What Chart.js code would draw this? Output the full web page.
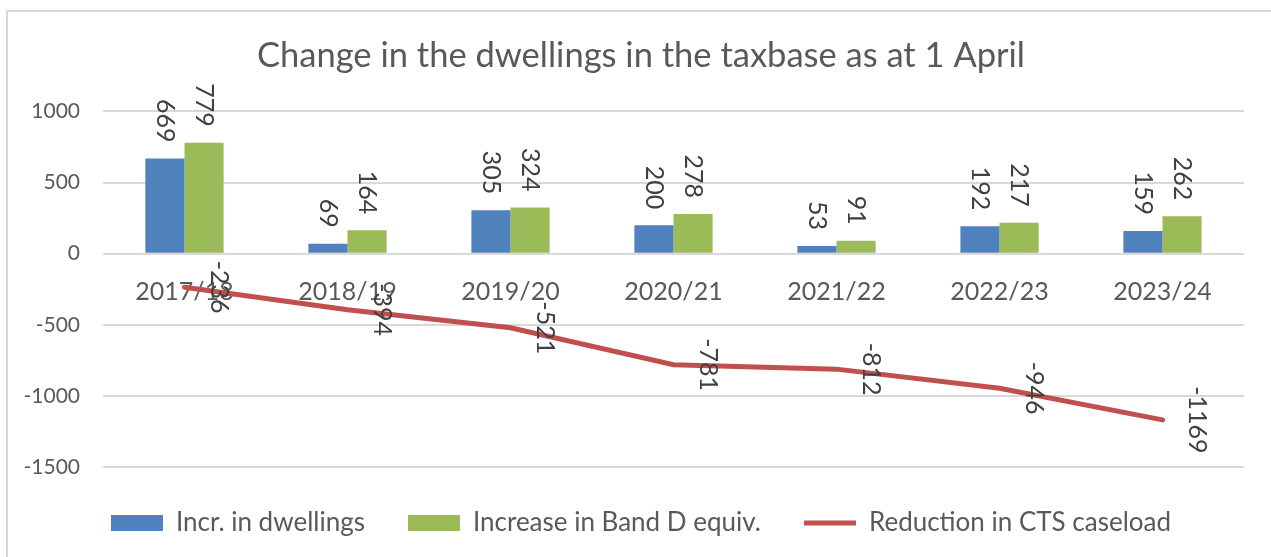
<!DOCTYPE html>
<html>
<head>
<meta charset="utf-8">
<script src="https://cdn.jsdelivr.net/npm/chart.js@4.4.1/dist/chart.umd.min.js"></script>
<style>
  html, body { margin: 0; padding: 0; background: #fff; }
  #wrap { position: relative; width: 1271px; height: 557px; overflow: hidden; }
  #frame { position: absolute; left: 6px; top: 10px; width: 1300px; height: 600px; border: 2px solid #d9d9d9; }
  #chart { position: absolute; left: 0; top: 0; }
</style>
</head>
<body>
<div id="wrap">
  <div id="frame"></div>
  <canvas id="chart" width="1271" height="557"></canvas>
</div>
<script>
const years = ["2017/18", "2018/19", "2019/20", "2020/21", "2021/22", "2022/23", "2023/24"];
const dwellings = [669, 69, 305, 200, 53, 192, 159];
const bandD = [779, 164, 324, 278, 91, 217, 262];
const ctsCaseload = [-236, -394, -521, -781, -812, -946, -1169];
const yTicks = [-1500, -1000, -500, 0, 500, 1000];

Chart.defaults.font.family = "Lato, 'Open Sans', sans-serif";
Chart.defaults.color = "#595959";

// numbers written sideways next to each bar and line point
const valueLabels = {
    id: "valueLabels",
    afterDatasetsDraw(chart) {
        const ctx = chart.ctx;
        ctx.save();
        ctx.font = "25px Lato";
        ctx.fillStyle = "#404040";
        ctx.textBaseline = "middle";
        chart.data.datasets.forEach((ds, i) => {
            const meta = chart.getDatasetMeta(i);
            meta.data.forEach((el, j) => {
                ctx.save();
                if (ds.type === "line") {
                    ctx.translate(el.x + 35, el.y);
                    ctx.rotate(Math.PI / 2);
                    ctx.textAlign = "center";
                } else {
                    ctx.translate(el.x, el.y - 16);
                    ctx.rotate(Math.PI / 2);
                    ctx.textAlign = "right";
                }
                ctx.fillText(String(ds.data[j]), 0, 0);
                ctx.restore();
            });
        });
        ctx.restore();
    }
};

// the left padding is only there to centre title and legend;
// let the y tick labels use that space too instead of being clipped
const wideYLabels = {
    id: "wideYLabels",
    afterLayout(chart) {
        chart.scales.y.left = 0;
    }
};

new Chart(document.getElementById("chart"), {
    type: "bar",
    data: {
        labels: years,
        datasets: [
            {
                label: "Incr. in dwellings",
                data: dwellings,
                backgroundColor: "#4F81BD",
                borderWidth: 0,
                pointStyle: "rect",
                order: 1
            },
            {
                label: "Increase in Band D equiv.",
                data: bandD,
                backgroundColor: "#9BBB59",
                borderWidth: 0,
                pointStyle: "rect",
                order: 1
            },
            {
                type: "line",
                label: "Reduction in CTS caseload",
                data: ctsCaseload,
                borderColor: "#C0504D",
                backgroundColor: "#C0504D",
                borderWidth: 5,
                borderCapStyle: "round",
                pointRadius: 0,
                pointStyle: "line",
                tension: 0,
                order: 0
            }
        ]
    },
    options: {
        responsive: false,
        animation: false,
        layout: { padding: { left: 38, right: 27, top: 0, bottom: 11 } },
        datasets: {
            bar: { categoryPercentage: 0.48, barPercentage: 1.0 }
        },
        scales: {
            x: {
                position: { y: 0 },
                grid: { display: false },
                border: { display: false },
                ticks: { font: { size: 25 }, color: "#595959", padding: 15, maxRotation: 0 }
            },
            y: {
                min: yTicks[0],
                max: yTicks[yTicks.length - 1],
                afterBuildTicks(scale) {
                    scale.ticks = yTicks.map(v => ({ value: v }));
                },
                afterFit(scale) {
                    scale.width = 65;
                },
                grid: { color: "#d9d9d9", lineWidth: 2, drawTicks: false },
                border: { display: false },
                ticks: {
                    font: { size: 21 },
                    color: "#595959",
                    padding: 23,
                    callback: v => String(v)
                }
            }
        },
        plugins: {
            title: {
                display: true,
                text: "Change in the dwellings in the taxbase as at 1 April",
                color: "#595959",
                font: { size: 34.5, weight: "normal" },
                padding: { top: 35, bottom: 35 }
            },
            legend: {
                position: "bottom",
                labels: {
                    usePointStyle: true,
                    pointStyleWidth: 52,
                    boxHeight: 16,
                    padding: 43,
                    color: "#595959",
                    font: { size: 26 },
                    sort: (a, b) => a.datasetIndex - b.datasetIndex
                }
            },
            tooltip: { enabled: false }
        }
    },
    plugins: [valueLabels, wideYLabels]
});
</script>
</body>
</html>
